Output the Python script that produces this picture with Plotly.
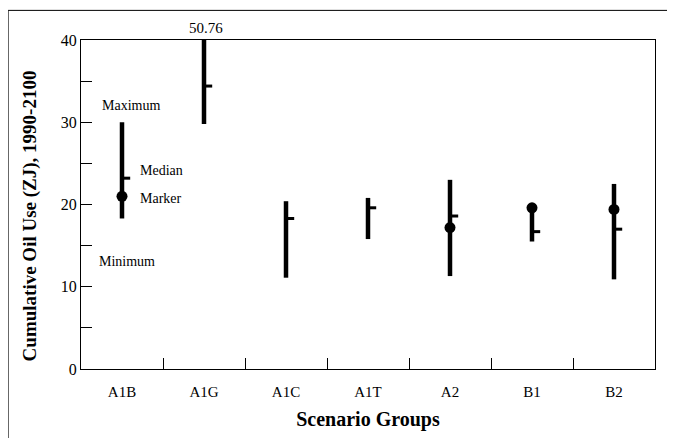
import plotly.graph_objects as go

# Scenario groups and cumulative oil use (ZJ)
groups = ["A1B", "A1G", "A1C", "A1T", "A2", "B1", "B2"]
minimum = [18.3, 29.8, 11.1, 15.8, 11.3, 15.5, 10.9]
maximum = [30.0, 50.76, 20.4, 20.8, 23.0, 19.9, 22.5]
median = [23.2, 34.4, 18.3, 19.6, 18.6, 16.7, 17.0]
marker = [21.0, None, None, None, 17.2, 19.6, 19.4]

FONT = "Liberation Serif"
idx = list(range(len(groups)))

fig = go.Figure()

# min-max range bars
bx, by = [], []
for i, lo, hi in zip(idx, minimum, maximum):
    bx += [i, i, None]
    by += [lo, hi, None]
fig.add_trace(go.Scatter(x=bx, y=by, mode="lines", line=dict(color="black", width=4.5),
                         hoverinfo="skip", showlegend=False))

# median ticks (short stub to the right of each bar)
mx, my = [], []
for i, m in zip(idx, median):
    mx += [i, i + 0.1, None]
    my += [m, m, None]
fig.add_trace(go.Scatter(x=mx, y=my, mode="lines", line=dict(color="black", width=3),
                         hoverinfo="skip", showlegend=False))

# marker scenarios
kx = [i for i, v in zip(idx, marker) if v is not None]
ky = [v for v in marker if v is not None]
fig.add_trace(go.Scatter(x=kx, y=ky, mode="markers", marker=dict(color="black", size=11),
                         hoverinfo="skip", showlegend=False))

labels = [
    ("Maximum", 0.11, 32.0, "center"),
    ("Median", 0.2, 24.1, "left"),
    ("Marker", 0.2, 20.7, "left"),
    ("Minimum", 0.06, 13.1, "center"),
]
for text, x, y, anchor in labels:
    fig.add_annotation(x=x, y=y, text=text, showarrow=False, xanchor=anchor,
                       font=dict(family=FONT, size=14, color="black"))

# clipped maximum of A1G, written above the plot
fig.add_annotation(x=1.03, yref="paper", y=1.0, yanchor="bottom", yshift=2,
                   text=f"{maximum[1]:.2f}", showarrow=False,
                   font=dict(family=FONT, size=15, color="black"))

fig.add_annotation(xref="paper", yref="paper", x=-0.112, y=0.466, textangle=-90,
                   text="<b>Cumulative Oil Use (ZJ), 1990-2100</b>", showarrow=False,
                   font=dict(family=FONT, size=19, color="black"))

# outer frame (top and left edges)
fig.add_shape(type="line", xref="paper", yref="paper", x0=-0.127, x1=1.03, y0=1.09, y1=1.09,
              line=dict(color="black", width=1))
fig.add_shape(type="line", xref="paper", yref="paper", x0=-0.127, x1=-0.127, y0=1.09, y1=-0.25,
              line=dict(color="black", width=1))

fig.update_layout(
    width=667,
    height=430,
    margin=dict(l=73, r=20, t=32, b=66),
    plot_bgcolor="white",
    paper_bgcolor="white",
    font=dict(family=FONT, size=15, color="black"),
    xaxis=dict(
        range=[-0.5, 6.5],
        tickmode="array",
        tickvals=idx,
        ticktext=groups,
        ticks="",
        ticklabelstandoff=9,
        showgrid=False,
        zeroline=False,
        showline=True,
        linecolor="black",
        linewidth=1,
        mirror=True,
        tickfont=dict(family=FONT, size=15),
        minor=dict(tickmode="array", tickvals=[i + 0.5 for i in idx[:-1]], ticks="inside",
                   ticklen=11, tickcolor="black", tickwidth=1, showgrid=False),
        title=dict(text="<b>Scenario Groups</b>", font=dict(family=FONT, size=20), standoff=12),
    ),
    yaxis=dict(
        range=[0, 40],
        tickvals=[0, 10, 20, 30, 40],
        ticks="inside",
        ticklen=11,
        tickcolor="black",
        showgrid=False,
        zeroline=False,
        showline=True,
        linecolor="black",
        linewidth=1,
        mirror=True,
        tickfont=dict(family=FONT, size=16),
        minor=dict(tickvals=[5, 15, 25, 35], ticks="inside", ticklen=11, tickcolor="black",
                   showgrid=False),
    ),
)

fig.write_html("out.html")
